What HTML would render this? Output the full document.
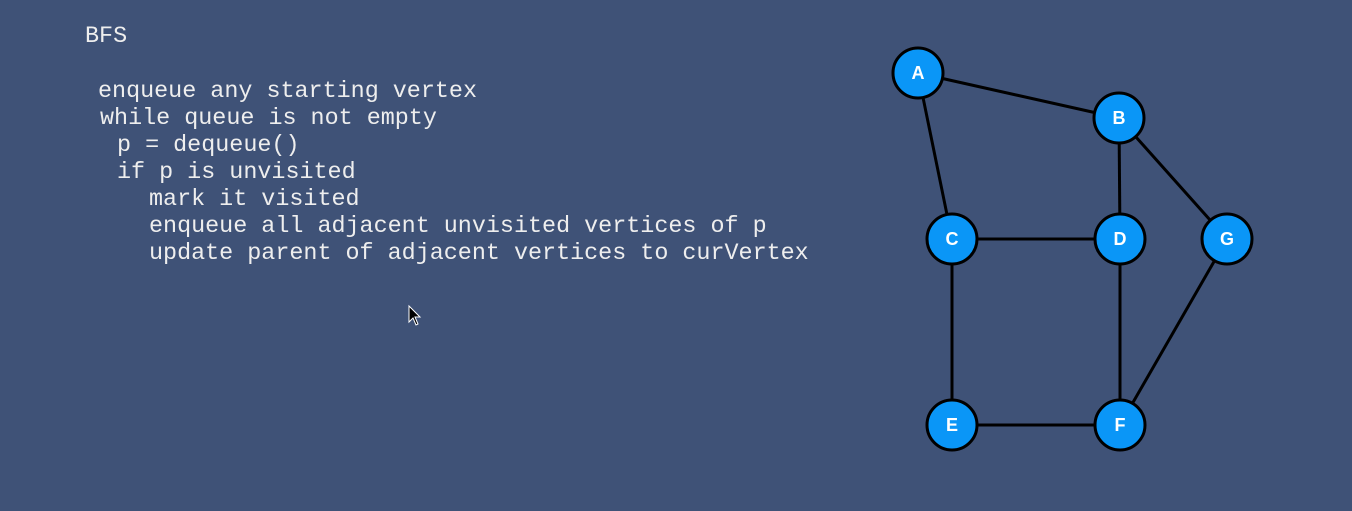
<!DOCTYPE html>
<html><head><style>
body{margin:0;width:1352px;height:511px;background:#3f5277;overflow:hidden;position:relative}
.t{position:absolute;font-family:"Liberation Mono",monospace;font-size:23.4px;color:#eeeeee;white-space:pre;line-height:1}
</style></head><body>
<div class="t" style="left:85px;top:26px">BFS</div>
<div class="t" style="left:98px;top:81px">enqueue any starting vertex</div>
<div class="t" style="left:100px;top:108px">while queue is not empty</div>
<div class="t" style="left:117px;top:135px">p = dequeue()</div>
<div class="t" style="left:117px;top:162px">if p is unvisited</div>
<div class="t" style="left:149px;top:189px">mark it visited</div>
<div class="t" style="left:149px;top:216px">enqueue all adjacent unvisited vertices of p</div>
<div class="t" style="left:149px;top:243px">update parent of adjacent vertices to curVertex</div>
<svg width="1352" height="511" style="position:absolute;left:0;top:0">
<g stroke="#000" stroke-width="3">
<line x1="918" y1="73" x2="1119" y2="118"/>
<line x1="918" y1="73" x2="952" y2="239"/>
<line x1="1119" y1="118" x2="1120" y2="239"/>
<line x1="1119" y1="118" x2="1227" y2="239"/>
<line x1="952" y1="239" x2="1120" y2="239"/>
<line x1="952" y1="239" x2="952" y2="425"/>
<line x1="1120" y1="239" x2="1120" y2="425"/>
<line x1="1227" y1="239" x2="1120" y2="425"/>
<line x1="952" y1="425" x2="1120" y2="425"/>
</g>
<g fill="#0a96f7" stroke="#000" stroke-width="3">
<circle cx="918" cy="73" r="25"/><circle cx="1119" cy="118" r="25"/>
<circle cx="952" cy="239" r="25"/><circle cx="1120" cy="239" r="25"/>
<circle cx="1227" cy="239" r="25"/><circle cx="952" cy="425" r="25"/>
<circle cx="1120" cy="425" r="25"/>
</g>
<g fill="#fff" font-family="Liberation Sans,sans-serif" font-weight="bold" font-size="18" text-anchor="middle">
<text x="918" y="79">A</text><text x="1119" y="124">B</text>
<text x="952" y="245">C</text><text x="1120" y="245">D</text>
<text x="1227" y="245">G</text><text x="952" y="431">E</text>
<text x="1120" y="431">F</text>
</g>
<path d="M409 306 L409 322 L413 318 L416 325 L418 324 L415 317 L420 317 Z" fill="#000" stroke="#fff" stroke-width="1"/>
</svg>
</body></html>
